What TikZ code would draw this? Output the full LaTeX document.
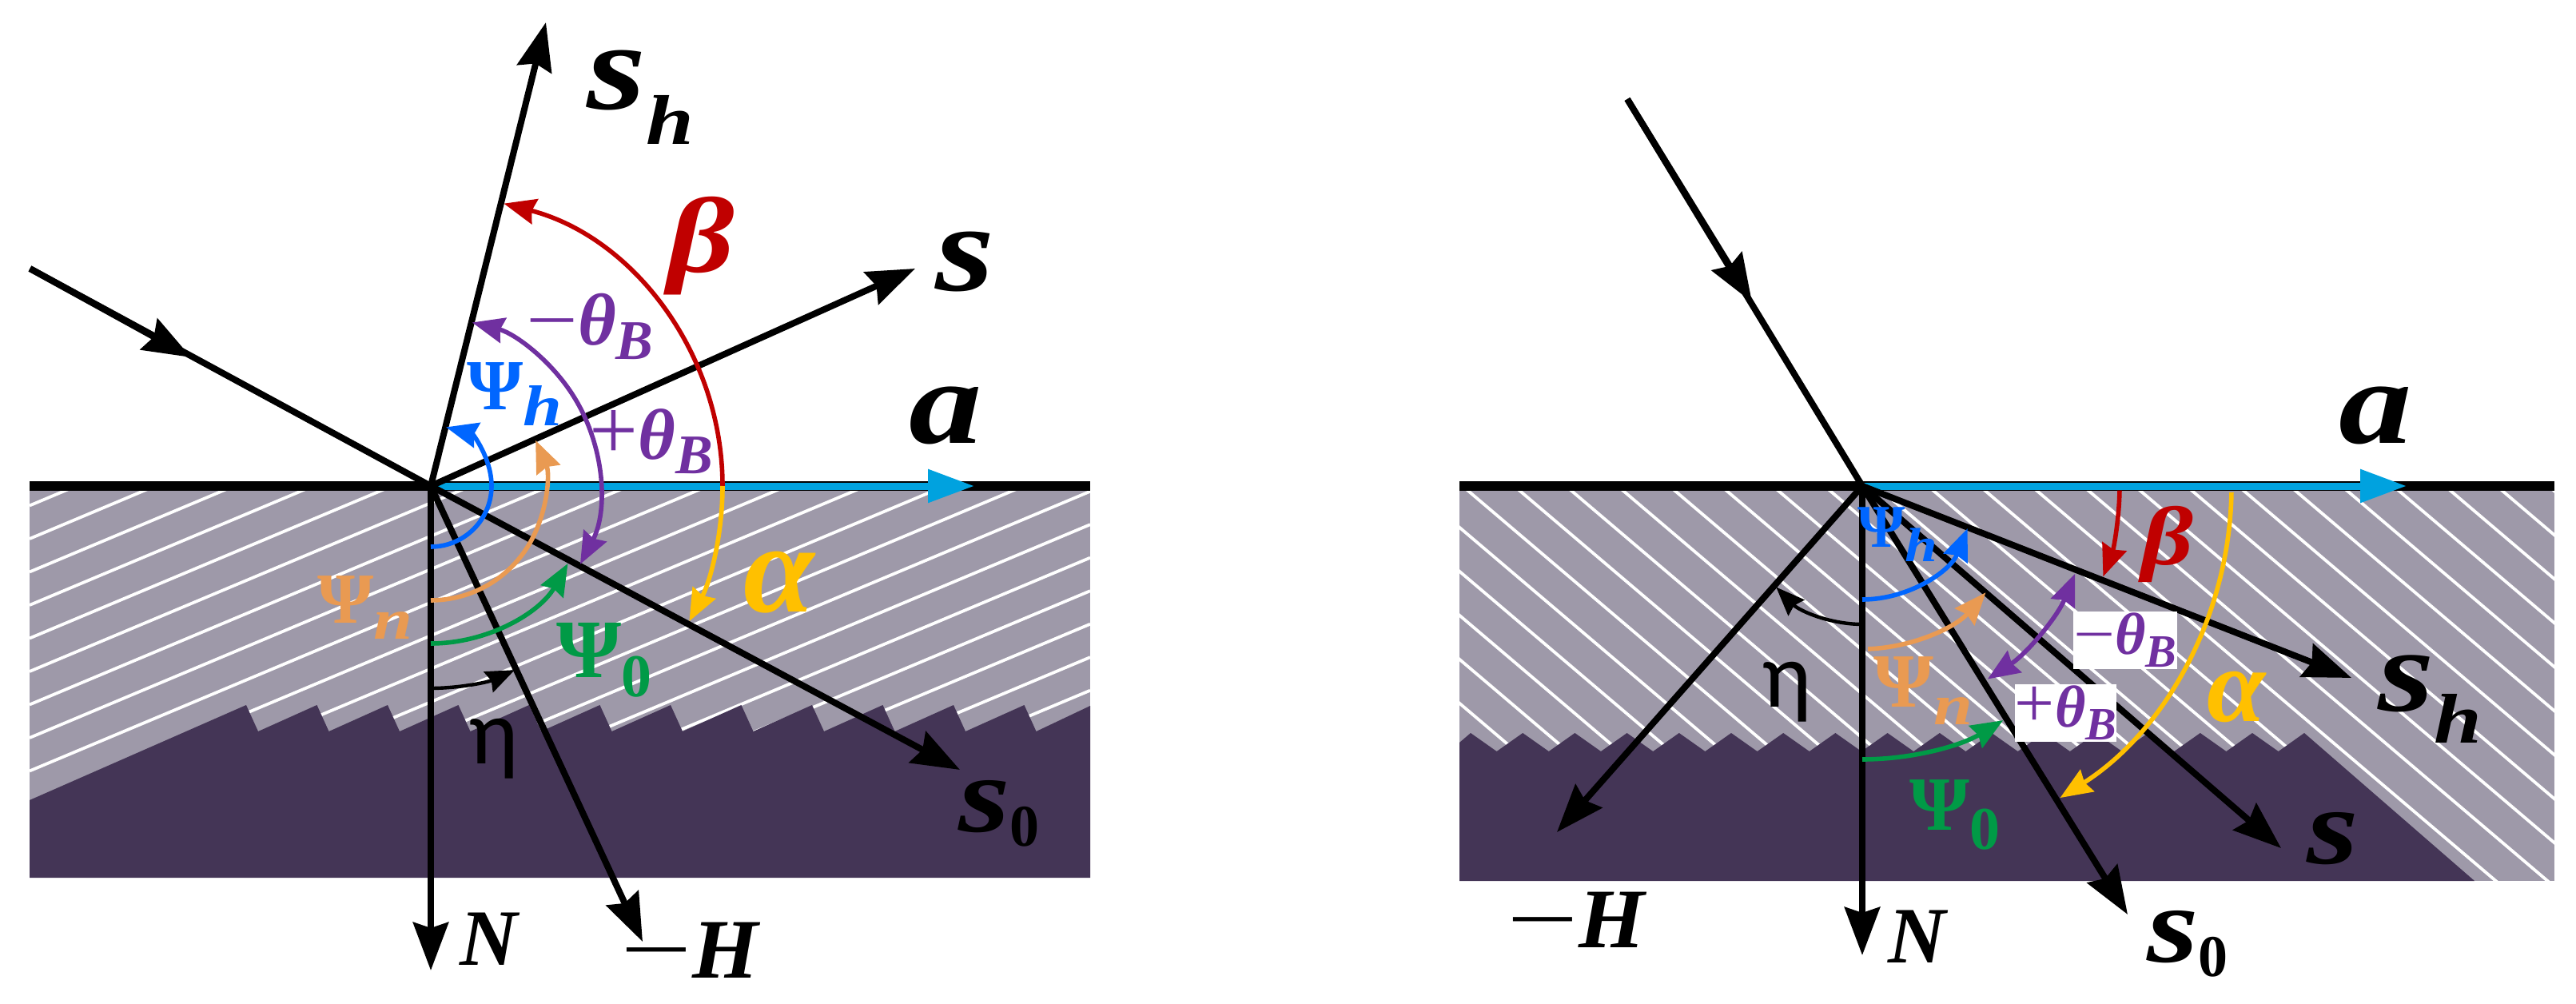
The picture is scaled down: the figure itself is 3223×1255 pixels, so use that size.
\documentclass[tikz,border=0pt]{standalone}
\usepackage{amsmath}
\usepackage{fontspec}
\usepackage{xcolor}
\usepackage{tikz}
\usetikzlibrary{arrows.meta}
\setmainfont{Liberation Serif}
\newfontfamily\etafont{Carlito}
\newfontfamily\widefont[FakeStretch=1.22]{Liberation Serif}
\definecolor{panelgray}{HTML}{9E99A9}
\definecolor{paneldark}{HTML}{443556}
\definecolor{rayblue}{HTML}{00A2DF}
\definecolor{angred}{HTML}{C00000}
\definecolor{angyellow}{HTML}{FFC000}
\definecolor{angpurple}{HTML}{7030A0}
\definecolor{angblue}{HTML}{0066FF}
\definecolor{angorange}{HTML}{E99A52}
\definecolor{anggreen}{HTML}{009A46}
\newcommand{\fs}[1]{\fontsize{#1}{#1}\selectfont}
\newcommand{\lsub}[3]{\raisebox{#2}{\fs{#1}#3}}
\newcommand{\minussign}[1]{{\normalfont\scalebox{#1}[1]{−}}}
\newcommand{\plussign}{{\normalfont\scalebox{1.2}{+}}}
\tikzset{
	x=0.5pt, y=0.5pt,
	ray/.style={line width=4pt, -{Stealth[length=30pt,width=22pt,inset=3.5pt]}},
	plainray/.style={line width=4pt},
	surface/.style={line width=6pt},
	axisray/.style={line width=4.5pt, draw=rayblue, -{Stealth[length=29pt,width=20pt,inset=0pt]}},
	hatchline/.style={white, line width=1.9pt},
	ang/.style={line width=2.8pt, -{Stealth[length=20pt,width=16pt,inset=2pt]}},
	angboth/.style={line width=2.8pt, {Stealth[length=20pt,width=16pt,inset=2pt]}-{Stealth[length=20pt,width=16pt,inset=2pt]}},
	angeta/.style={line width=2.2pt, -{Stealth[length=18pt,width=14pt,inset=2pt]}},
	lab/.style={inner sep=0pt, font=\widefont\bfseries\itshape},
	labnar/.style={inner sep=0pt, font=\bfseries\itshape},
	labup/.style={inner sep=0pt, font=\bfseries},
	whitebox/.style={fill=white, inner sep=0pt, minimum height=36pt, font=\bfseries\itshape},
}
\begin{document}
\begin{tikzpicture}
	\useasboundingbox (0,0) rectangle (3223,1255);
	% left panel
	\begin{scope}[shift={(539,647)}]
		\coordinate (lo) at (0,0);
		\fill[panelgray] (-502,0) rectangle (825,-490);
		\begin{scope}
			\clip (-502,0) rectangle (825,-490);
			\foreach \k in {-5,...,21} {
				\draw[hatchline] (-502,-190.5-41.5*\k) -- ++(1327,557.3);
			}
		\end{scope}
		\fill[paneldark] (-502,-393)
			\foreach \i in {0,...,11} { -- (-231+88.5*\i,-274) -- (-216+88.5*\i,-307) }
			-- (825,-275) -- (825,-490) -- (-502,-490) -- cycle;
		\coordinate (lin) at (-501.5,272);
		\coordinate (linmid) at (-300,161);
		\coordinate (lsh) at (144,580);
		\coordinate (ls) at (606,272);
		\coordinate (la) at (680,0);
		\coordinate (lsz) at (662,-355);
		\coordinate (lmh) at (265,-570);
		\coordinate (ln) at (0,-606);
		\draw[surface] (-502,0) -- (825,0);
		\draw[axisray] (lo) -- (la);
		\draw[plainray] (lin) -- (lo);
		\draw[ray] (lin) -- (linmid);
		\draw[ray] (lo) -- (lsh);
		\draw[ray] (lo) -- (ls);
		\draw[ray] (lo) -- (lsz);
		\draw[ray] (lo) -- (lmh);
		\draw[ray] (lo) -- (ln);
		\draw[ang, angred] (0:365) arc (0:75.5:365);
		\draw[ang, angyellow] (0:365) arc (0:-27.6:365);
		\draw[angboth, angpurple] (-27.6:211) arc (-27.6:75.8:211);
		\draw[ang, angblue] (-90:76) arc (-90:75.5:76);
		\draw[ang, angorange] (-90:143) arc (-90:23.5:143);
		\draw[ang, anggreen] (-90:197) arc (-90:-29.5:197);
		\draw[angeta] (-90:253) arc (-90:-65.5:253);
		\node[lab] (lshlab) at (262,486) {\fs{78}s\lsub{44}{-22pt}{h}};
		\node[lab] (lslab) at (669,280) {\fs{78}s};
		\node[lab] (lalab) at (644,88) {\fs{75}a};
		\node[lab, text=angred] (lbeta) at (338,300) {\fs{67}β};
		\node[labnar, text=angpurple] (lminus) at (199,200) {\fs{46}\minussign{1.25}θ\lsub{35}{-9pt}{B}};
		\node[labup, text=angblue] (lpsih) at (105,115) {\fs{45}Ψ\lsub{36}{-10pt}{\widefont\itshape h}};
		\node[labnar, text=angpurple] (lplus) at (276,56) {\fs{45}\plussign θ\lsub{35}{-9pt}{B}};
		\node[labup, text=angyellow] (lalpha) at (436,-121) {\fs{80}\itshape α};
		\node[labup, text=angorange] (lpsin) at (-82,-152) {\fs{45}Ψ\lsub{36}{-10pt}{\widefont\itshape n}};
		\node[labup, text=anggreen] (lpsiz) at (217,-218) {\fs{52}Ψ\lsub{38}{-12pt}{0}};
		\node[inner sep=0pt] (leta) at (79,-329) {\etafont\fs{58}η};
		\node[lab] (lszlab) at (711,-410) {\fs{68}s\lsub{37}{-9pt}{\normalfont\bfseries 0}};
		\node[labnar] (lnlab) at (73,-567) {\fs{50}N};
		\node[labnar] (lmhlab) at (324,-581) {\fs{53}\minussign{1.5}H};
	\end{scope}
	% right panel
	\begin{scope}[shift={(2330,647)}]
		\coordinate (ro) at (0,0);
		\fill[panelgray] (-504,0) rectangle (866,-494);
		\begin{scope}
			\clip (-504,0) rectangle (866,-494);
			\foreach \k in {-15,...,15} {
				\draw[hatchline] (-112+64.7*\k,0) -- ++(600,-510);
			}
		\end{scope}
		\fill[paneldark] (-504,-321)
			\foreach \i in {0,...,15} { -- (-490+65.2*\i,-309) -- (-457.4+65.2*\i,-332) }
			-- (553,-309) -- (766,-494) -- (-504,-494) -- cycle;
		\coordinate (rin) at (-294,484);
		\coordinate (rinmid) at (-138,230);
		\coordinate (rsh) at (612,-240);
		\coordinate (rs) at (524,-453);
		\coordinate (rsz) at (332,-536);
		\coordinate (rn) at (0,-587);
		\coordinate (rmh) at (-382,-433);
		\coordinate (ra) at (681,0);
		\draw[surface] (-504,0) -- (866,0);
		\draw[axisray] (ro) -- (ra);
		\draw[plainray] (rin) -- (ro);
		\draw[ray] (rin) -- (rinmid);
		\draw[ray] (ro) -- (rsh);
		\draw[ray] (ro) -- (rs);
		\draw[ray] (ro) -- (rsz);
		\draw[ray] (ro) -- (rmh);
		\draw[ray] (ro) -- (rn);
		\draw[ang, angred] (-1:322) arc (-1:-20.6:322);
		\draw[ang, angyellow] (-1:462) arc (-1:-57.6:462);
		\draw[angboth, angpurple] (-22.4:288) arc (-22.4:-57:288);
		\draw[ang, angblue] (-90:142) arc (-90:-22:142);
		\draw[ang, angorange] (-88:204) arc (-88:-40.8:204);
		\draw[ang, anggreen] (-90:342) arc (-90:-59:342);
		\draw[angeta] (-90:173) arc[start angle=-90, end angle=-133, x radius=158, y radius=173];
		\node[lab] (ralab) at (642,88) {\fs{75}a};
		\node[lab] (rshlab) at (710,-267) {\fs{74}s\lsub{44}{-20pt}{h}};
		\node[lab] (rslab) at (589,-441) {\fs{68}s};
		\node[lab] (rszlab) at (407,-573) {\fs{68}s\lsub{37}{-9pt}{\normalfont\bfseries 0}};
		\node[labnar] (rnlab) at (69,-564) {\fs{50}N};
		\node[labnar] (rmhlab) at (-358,-543) {\fs{53}\minussign{1.5}H};
		\node[lab, text=angred] (rbeta) at (382,-72.5) {\fs{52}β};
		\node[labup, text=angyellow] (ralpha) at (468,-264) {\fs{66}\itshape α};
		\node[whitebox, text=angpurple, minimum width=60pt] (rminus) at (329,-193) {\fs{37}\minussign{1.25}θ\lsub{29}{-8pt}{B}};
		\node[whitebox, text=angpurple, minimum width=62pt] (rplus) at (254.5,-284) {\fs{37}\plussign θ\lsub{29}{-8pt}{B}};
		\node[labup, text=angblue] (rpsih) at (44,-61) {\fs{38}Ψ\lsub{30}{-9pt}{\widefont\itshape h}};
		\node[labup, text=angorange] (rpsin) at (76,-256) {\fs{48}Ψ\lsub{36}{-11pt}{\widefont\itshape n}};
		\node[labup, text=anggreen] (rpsiz) at (116,-411) {\fs{48}Ψ\lsub{38}{-12pt}{0}};
		\node[inner sep=0pt] (reta) at (-94,-258) {\etafont\fs{58}η};
	\end{scope}
\end{tikzpicture}
\end{document}
